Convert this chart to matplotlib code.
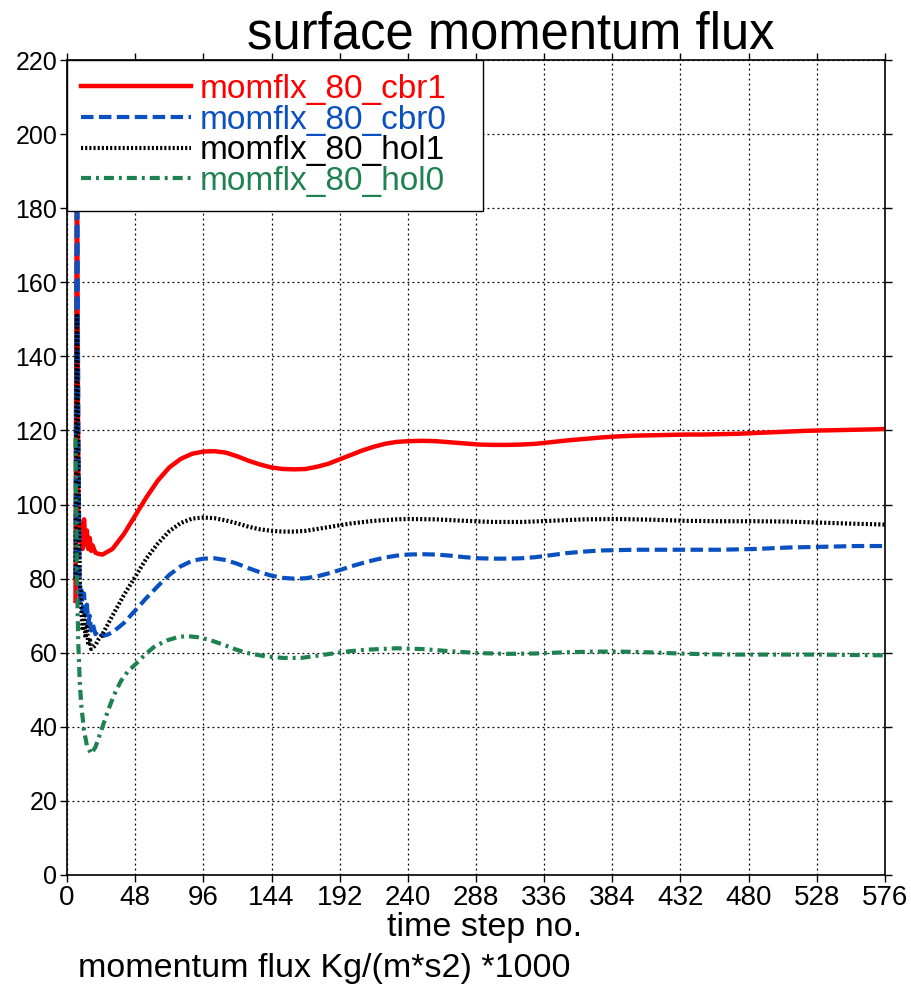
import matplotlib
matplotlib.use("Agg")
import matplotlib.pyplot as plt

# ---- data ----
labels = ["momflx_80_cbr1", "momflx_80_cbr0", "momflx_80_hol1", "momflx_80_hol0"]
colors = ["#ff0000", "#0a50c0", "#000000", "#1e8250"]

cbr1_x = [6, 7, 8, 9, 10, 11, 12, 13, 14, 15, 16, 17, 18, 20, 22, 25, 32, 40, 48, 56, 64, 72, 80, 88, 96,
          104, 112, 120, 128, 136, 144, 152, 160, 168, 176, 184, 192, 200, 208, 216, 224, 232, 240, 250,
          260, 270, 280, 290, 300, 310, 320, 330, 340, 352, 364, 376, 388, 400, 412, 424, 436, 448, 460,
          472, 484, 496, 508, 520, 532, 544, 556, 568, 576]
cbr1_y = [74, 205, 96, 90, 95, 88, 96, 89, 93, 88, 91, 87.5, 89, 87, 86.7, 86.5, 88, 92, 97, 102, 106.5, 110,
          112.3, 113.7, 114.3, 114.4, 114, 113, 111.8, 110.8, 110, 109.6, 109.5, 109.6, 110.2, 111, 112.2,
          113.4, 114.6, 115.6, 116.4, 116.9, 117.1, 117.2, 117.1, 116.8, 116.5, 116.2, 116.1, 116.1, 116.2,
          116.4, 116.8, 117.3, 117.7, 118.1, 118.4, 118.6, 118.7, 118.8, 118.9, 118.9, 119, 119.1, 119.3,
          119.5, 119.7, 119.9, 120, 120.1, 120.2, 120.3, 120.4]

cbr0_x = [6, 7, 8, 9, 10, 11, 12, 13, 14, 15, 16, 17, 18, 20, 22, 25, 28, 32, 40, 48, 56, 64, 72, 80, 88, 96,
          104, 112, 120, 128, 136, 144, 152, 160, 168, 176, 184, 192, 200, 208, 216, 224, 232, 240, 250,
          260, 270, 280, 290, 300, 310, 320, 330, 340, 352, 364, 376, 388, 400, 412, 424, 436, 448, 460,
          472, 484, 496, 508, 520, 532, 544, 556, 568, 576]
cbr0_y = [80, 210, 120, 74, 78, 71, 76, 70, 73, 68, 70, 66, 68, 65, 66, 64.5, 64.8, 65.5, 68, 71.4, 74.8, 78,
          81, 83.3, 84.8, 85.4, 85.5, 85, 84, 82.8, 81.7, 80.8, 80.2, 80, 80.1, 80.6, 81.4, 82.3, 83.3, 84.2,
          85, 85.7, 86.2, 86.5, 86.6, 86.5, 86.2, 85.8, 85.5, 85.4, 85.4, 85.5, 85.8, 86.3, 86.9, 87.3, 87.6,
          87.7, 87.8, 87.8, 87.8, 87.8, 87.8, 87.8, 87.9, 88.0, 88.2, 88.4, 88.5, 88.6, 88.7, 88.8, 88.8,
          88.8]

hol1_x = [6, 7, 8, 9, 10, 11, 12, 13, 14, 15, 16, 17, 18, 20, 22, 25, 32, 40, 48, 56, 64, 72, 80, 88, 96,
          104, 112, 120, 128, 136, 144, 152, 160, 168, 176, 184, 192, 200, 216, 232, 240, 260, 280, 300,
          320, 340, 364, 388, 412, 436, 460, 484, 508, 532, 556, 576]
hol1_y = [80, 151, 110, 80, 72, 66, 70, 64, 67, 62, 64, 61, 61.3, 62, 63.5, 65, 70, 75.5, 80.5, 85.5, 89.5,
          92.8, 95, 96.2, 96.5, 96.3, 95.7, 94.9, 94, 93.3, 92.9, 92.7, 92.7, 92.9, 93.4, 93.9, 94.4, 94.9,
          95.6, 96, 96.1, 96, 95.6, 95.3, 95.3, 95.6, 96, 96.1, 95.9, 95.6, 95.5, 95.5, 95.4, 95.1, 94.8,
          94.6]

hol0_x = [6, 7, 8, 9, 10, 12, 14, 17, 20, 22, 25, 29, 33, 38, 43, 48, 55, 62, 71, 78, 84, 92, 100, 110,
          118, 126, 140, 152, 165, 180, 196, 210, 232, 250, 270, 290, 310, 330, 350, 370, 390, 410, 430,
          450, 470, 490, 510, 530, 550, 576]
hol0_y = [118, 80, 62, 52, 46, 39, 35, 32.7, 34.5, 36.7, 40, 44.5, 48.5, 52.4, 55, 56.8, 59.5, 61.8, 63.4,
          64.2, 64.5, 64.2, 63.5, 62.2, 61, 60, 59, 58.6, 58.6, 59.4, 60.3, 60.8, 61.2, 61, 60.4, 59.9,
          59.7, 59.8, 60.1, 60.3, 60.3, 60.1, 59.8, 59.6, 59.5, 59.5, 59.5, 59.5, 59.4, 59.3]

x_ticks = [0, 48, 96, 144, 192, 240, 288, 336, 384, 432, 480, 528, 576]
y_ticks = [0, 20, 40, 60, 80, 100, 120, 140, 160, 180, 200, 220]

# ---- figure ----
fig = plt.figure(figsize=(9.12, 9.85), dpi=100)
ax = fig.add_axes([67/912, 110/985, 818/912, 815/985])

fam = ["Liberation Sans", "DejaVu Sans"]

styles = [dict(ls="-", lw=3.2),
          dict(ls=(0, (3.0, 1.3)), lw=3.0),
          dict(ls=(0, (0.5, 0.5)), lw=3.0),
          dict(ls=(0, (2.4, 1.2, 0.7, 1.2)), lw=3.0)]
series = [(cbr1_x, cbr1_y), (cbr0_x, cbr0_y), (hol1_x, hol1_y), (hol0_x, hol0_y)]
for (xs, ys), lab, col, st in zip(series, labels, colors, styles):
    ax.plot(xs, ys, color=col, label=lab, solid_joinstyle="round", **st)

ax.set_xlim(0, 576)
ax.set_ylim(0, 220)
ax.set_xticks(x_ticks)
ax.set_yticks(y_ticks)
ax.set_xticklabels([str(v) for v in x_ticks], fontfamily=fam, fontsize=20)
ax.set_yticklabels([str(v) for v in y_ticks], fontfamily=fam, fontsize=18)
ax.tick_params(axis="both", direction="out", length=5, width=1, pad=2,
               top=True, right=True, labeltop=False, labelright=False)
ax.grid(True, color="black", ls=(0, (1.5, 2.5)), lw=0.9)
for sp in ax.spines.values():
    sp.set_linewidth(1.2)

ax.set_title("surface momentum flux", fontfamily=fam, fontsize=36.5, pad=8, x=0.543)
ax.set_xlabel("time step no.", fontfamily=fam, fontsize=24.5, labelpad=0)
ax.xaxis.set_label_coords(0.511, -0.0455)
ax.xaxis.label.set_va("top")
fig.text(78/912, 1 - 968/985, "momentum flux Kg/(m*s2) *1000", fontfamily=fam, fontsize=24.5,
         va="center", ha="left")

leg = ax.legend(loc="upper left", bbox_to_anchor=(0, 0, (483 - 67)/818, 1), mode="expand",
                borderaxespad=0, frameon=True, fancybox=False,
                framealpha=1, edgecolor="black", handlelength=3.3, handletextpad=0.27,
                labelspacing=-0.01, borderpad=0.42,
                prop={"family": fam, "size": 24})
leg.get_frame().set_linewidth(1.0)
for txt, col in zip(leg.get_texts(), colors):
    txt.set_color(col)

fig.savefig("out.png", dpi=100)
